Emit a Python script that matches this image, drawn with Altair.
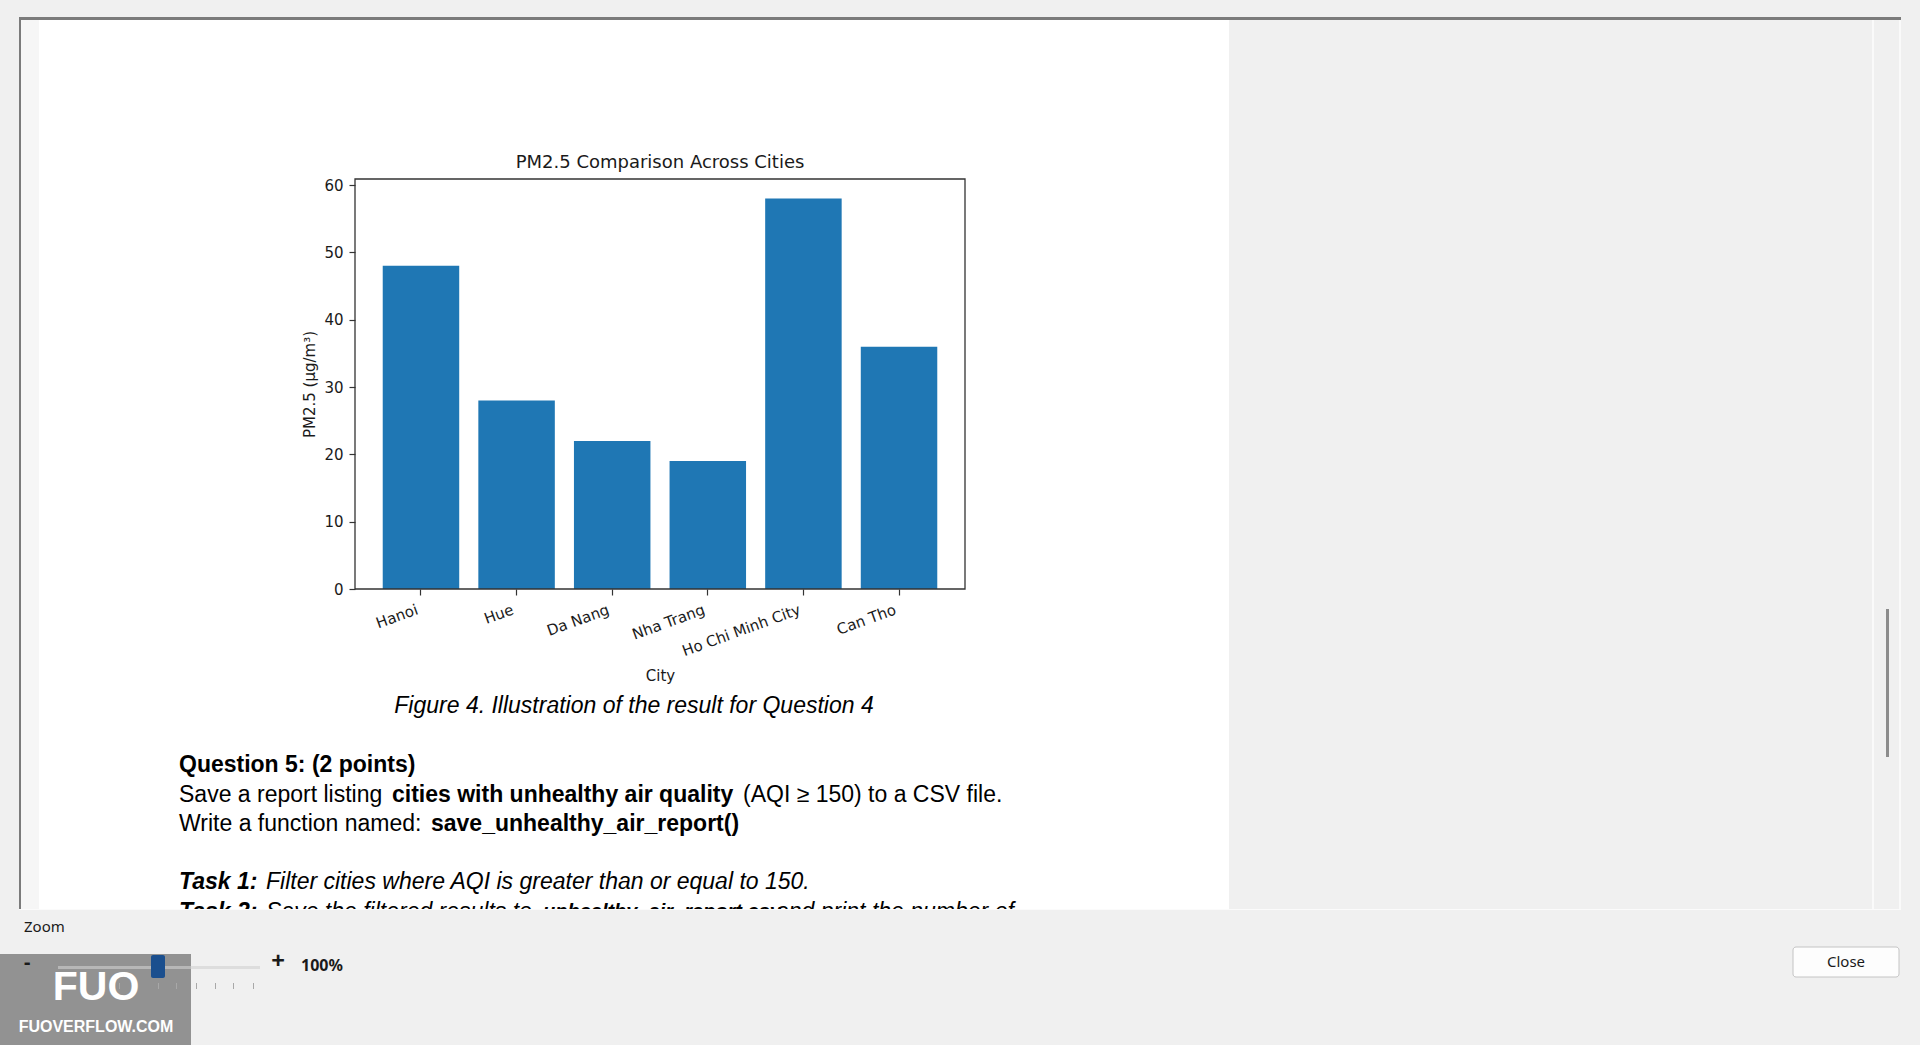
import altair as alt
import pandas as pd

# ---------------- data ----------------
cities = ["Hanoi", "Hue", "Da Nang", "Nha Trang", "Ho Chi Minh City", "Can Tho"]
pm25 = [48, 28, 22, 19, 58, 36]
y_ticks = [0, 10, 20, 30, 40, 50, 60]

chart_title = "PM2.5 Comparison Across Cities"
x_title = "City"
y_title = "PM2.5 (µg/m³)"
caption = "Figure 4. Illustration of the result for Question 4"

# ---------------- layout ----------------
W, H = 1920, 1045
PX, PY = 355, 179      # plot-area origin on the page
PW, PH = 610, 410      # plot-area size

one = pd.DataFrame({"k": [0]})


def rect(x1, y1, x2, y2, **kw):
    return alt.Chart(one).mark_rect(**kw).encode(
        x=alt.value(x1 - PX), x2=alt.value(x2 - PX),
        y=alt.value(y1 - PY), y2=alt.value(y2 - PY))


def text(t, x, y, size, font="Liberation Sans", weight="normal", style="normal",
         color="#000000", align="left", baseline="middle"):
    return alt.Chart(pd.DataFrame({"t": [t]})).mark_text(
        font=font, fontSize=size, fontWeight=weight, fontStyle=style,
        color=color, align=align, baseline=baseline).encode(
        x=alt.value(x - PX), y=alt.value(y - PY), text="t:N")


df = pd.DataFrame({"City": cities, "PM25": pm25})

axis_common = dict(
    labelFont="DejaVu Sans", labelFontSize=15, labelColor="#1a1a1a",
    titleFont="DejaVu Sans", titleFontSize=15, titleColor="#1a1a1a",
    titleFontWeight="normal", tickColor="#333333", tickWidth=1.2,
    tickSize=6, domain=False, grid=False, zindex=1,
)

bars = alt.Chart(df).mark_bar(color="#1f77b4").encode(
    x=alt.X("City:N", sort=cities,
            scale=alt.Scale(paddingInner=0.2, paddingOuter=0.29),
            axis=alt.Axis(title=x_title, labelAngle=340, labelAlign="right",
                          labelBaseline="top", labelOffset=-6, labelPadding=7,
                          labelOverlap=False, labelFlush=False,
                          titleY=86, titleBaseline="middle", **axis_common)),
    y=alt.Y("PM25:Q", scale=alt.Scale(domain=[0, 60.9], nice=False),
            axis=alt.Axis(title=y_title, values=y_ticks, labelPadding=6,
                          titleX=-46, titleY=PH / 2, titleAlign="center",
                          titleBaseline="middle", **axis_common)),
)

frame = alt.Chart(one).mark_rect(fillOpacity=0, stroke="#333333", strokeWidth=1.3).encode(
    x=alt.value(0), x2=alt.value(PW), y=alt.value(0), y2=alt.value(PH))

layers = [
    # window frame and page
    rect(19, 17, 1901, 20, color="#7b7b7b"),
    rect(19, 17, 21, 909, color="#7b7b7b"),
    rect(21, 20, 39, 909, color="#f6f6f6"),
    rect(39, 20, 1229, 909, color="#ffffff"),
    rect(1872, 20, 1874, 909, color="#fafafa"),
    rect(1899, 20, 1901, 909, color="#fafafa"),
    # chart
    bars,
    frame,
    text(chart_title, PX + PW / 2, 162.5, 18, font="DejaVu Sans", color="#1a1a1a", align="center"),
    # document text
    text(caption, 634, 706, 23, style="italic", align="center"),
    text("Question 5: (2 points)", 179, 765, 23, weight="bold"),
    text("Save a report listing", 179, 795, 23),
    text("cities with unhealthy air quality", 392, 795, 23, weight="bold"),
    text("(AQI ≥ 150) to a CSV file.", 743, 795, 23),
    text("Write a function named:", 179, 824, 23),
    text("save_unhealthy_air_report()", 431, 824, 23, weight="bold"),
    text("Task 1:", 179, 882, 23, weight="bold", style="italic"),
    text("Filter cities where AQI is greater than or equal to 150.", 266, 882, 23, style="italic"),
    text("Task 2:", 179, 912, 23, weight="bold", style="italic"),
    text("Save the filtered results to", 266, 912, 23, style="italic"),
    text("unhealthy_air_report.csv", 543, 912, 20, weight="bold", style="italic"),
    text("and print the number of", 776, 912, 23, style="italic"),
    # bottom panel
    rect(0, 909, 1920, 1045, color="#f0f0f0"),
    rect(19, 909, 1901, 910, color="#fbfbfb"),
    rect(1886, 609, 1889, 757, color="#8c8c8c"),
    text("Zoom", 24, 927, 15, font="Noto Sans", color="#1a1a1a"),
    rect(1793, 947, 1899, 977, color="#fdfdfd", stroke="#c4c4c4", strokeWidth=1, cornerRadius=3),
    text("Close", 1846, 962, 15, font="Noto Sans", color="#1a1a1a", align="center"),
    # watermark
    rect(0, 954, 191, 1045, color="#7a7a7a", opacity=0.8),
    text("FUO", 96, 988, 41, font="Liberation Sans", weight="bold", color="#ffffff", align="center"),
    text("FUOVERFLOW.COM", 96, 1027, 16, font="Liberation Sans", weight="bold", color="#ffffff", align="center"),
    # zoom slider (visible through the watermark)
    text("-", 24, 963, 20, font="Noto Sans", weight="bold", color="#1a1a1a"),
    rect(58, 966, 260, 969, color="#d0d0d0", opacity=0.6),
    rect(151, 955, 165, 978, color="#1b4f8e", cornerRadius=2),
    text("+", 278, 962, 24, font="Noto Sans", weight="bold", color="#1a1a1a", align="center"),
    text("100%", 301, 966, 16, font="Noto Sans", weight="bold", color="#1a1a1a"),
]

for tx in [119, 158, 176, 196, 215, 233, 253]:
    layers.append(rect(tx, 983, tx + 1, 989, color="#a8a8a8"))

chart = alt.layer(*layers).properties(
    width=PW, height=PH,
    autosize=alt.AutoSizeParams(type="none"),
    padding={"left": PX, "top": PY, "right": W - PX - PW, "bottom": H - PY - PH},
    background="#f0f0f0",
).configure_view(strokeWidth=0)

chart.save("out.html", embed_options={"renderer": "svg", "actions": False})
